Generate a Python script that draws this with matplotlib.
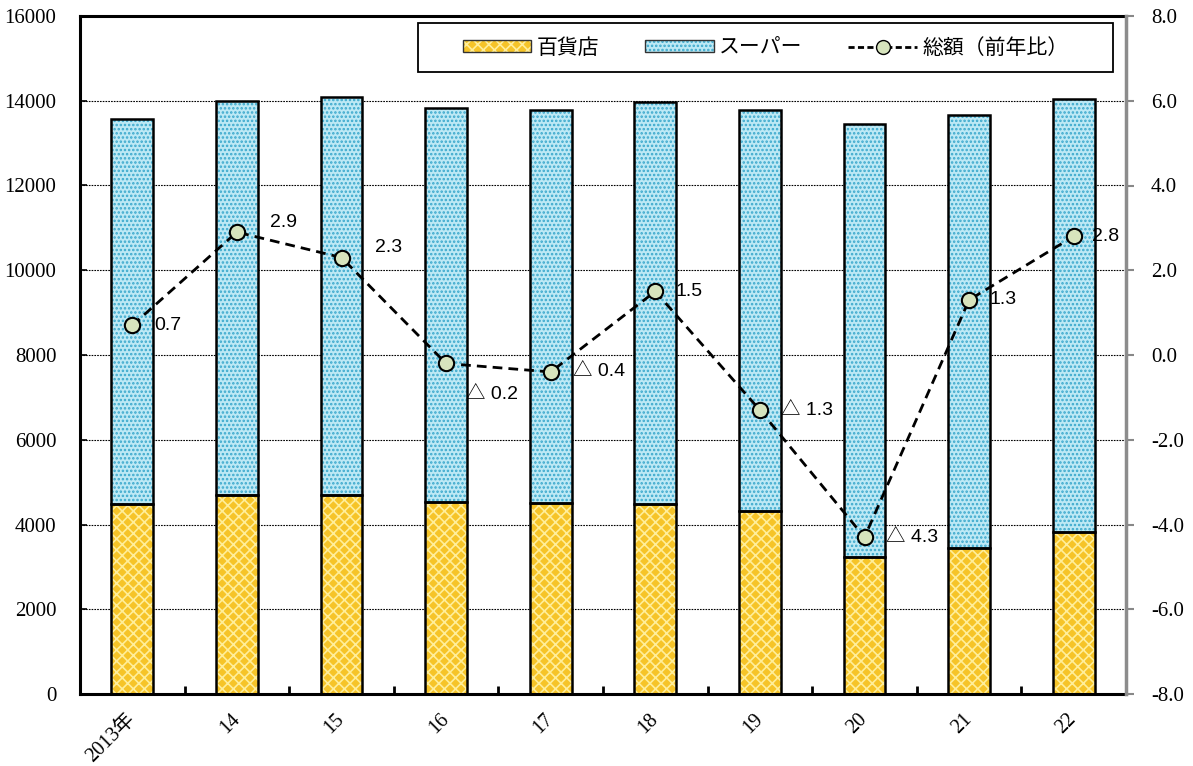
import matplotlib
matplotlib.use("Agg")
import matplotlib.pyplot as plt
import numpy as np
from matplotlib.patches import Patch, Rectangle
from matplotlib.lines import Line2D
from matplotlib.legend_handler import HandlerTuple

plt.rcParams['axes.unicode_minus'] = False
plt.rcParams['hatch.linewidth'] = 1.2

# ---- data ----
categories = ["2013年", "14", "15", "16", "17", "18", "19", "20", "21", "22"]
dept_store = [4490, 4700, 4700, 4530, 4510, 4480, 4320, 3230, 3450, 3830]
total = [13570, 14000, 14080, 13830, 13770, 13960, 13790, 13450, 13670, 14040]
supermarket = [t - d for t, d in zip(total, dept_store)]
yoy = [0.7, 2.9, 2.3, -0.2, -0.4, 1.5, -1.3, -4.3, 1.3, 2.8]
series_names = ["百貨店", "スーパー", "総額（前年比）"]
left_ticks = [0, 2000, 4000, 6000, 8000, 10000, 12000, 14000, 16000]
right_ticks = [-8, -6, -4, -2, 0, 2, 4, 6, 8]
# label offsets in pixels (dx, dy)
label_offsets = [(22, 0), (33, 10), (33, 10), (20, -31), (22, 0),
                 (20, 0), (21, 0), (21, 0), (20, 0), (18, 0)]

orange_base = "#F6C428"
orange_pat = "#FFEE9A"
blue_base = "#BDE9F5"
blue_pat = "#3AA8CC"

fig = plt.figure(figsize=(11.93, 7.66), dpi=100)
ax = fig.add_axes([80/1193, 72/766, 1046/1193, 678/766])
x = np.arange(len(categories))
w = 0.40

# hatched fills
ax.bar(x, dept_store, w, color=orange_base, edgecolor=orange_pat, hatch="xxx", lw=0, zorder=2)
ax.bar(x, supermarket, w, bottom=dept_store, color=blue_base, edgecolor=blue_pat, hatch="....", lw=0, zorder=2)
# outlines
ax.bar(x, dept_store, w, fill=False, edgecolor="black", lw=1.8, zorder=3)
ax.bar(x, supermarket, w, bottom=dept_store, fill=False, edgecolor="black", lw=1.8, zorder=3)

ax.set_xlim(-0.5, len(categories) - 0.5)
ax.set_ylim(0, 16000)
ax.set_yticks(left_ticks)
ax.set_yticklabels([str(v) for v in left_ticks], family=["Liberation Serif"], fontsize=15)
ax.yaxis.grid(True, linestyle=(0, (1.5, 1.0)), color="black", lw=0.8)
ax.set_axisbelow(True)
ax.tick_params(axis="y", direction="in", length=5, width=1.2, pad=17)

ax.set_xticks(x)
ax.set_xticklabels(categories, rotation=45, ha="right", va="center", rotation_mode="anchor",
                   family=["Liberation Serif", "Noto Sans CJK JP"], fontsize=14.5)
ax.tick_params(axis="x", which="major", length=0, pad=16)
ax.set_xticks(np.arange(len(categories) + 1) - 0.5, minor=True)
ax.tick_params(axis="x", which="minor", direction="in", length=6, width=2)

for s in ["left", "bottom", "top"]:
    ax.spines[s].set_linewidth(2.2)
    ax.spines[s].set_color("black")
ax.spines["right"].set_visible(False)

ax2 = ax.twinx()
ax2.plot(x, yoy, linestyle=(0, (3.5, 2.2)), color="black", lw=2, marker="o", markersize=11,
         markerfacecolor="#D7E4BD", markeredgecolor="black", markeredgewidth=1.5, zorder=5)
ax2.set_ylim(-8, 8)
ax2.set_yticks(right_ticks)
ax2.set_yticklabels([f"{v:.1f}" for v in right_ticks], family=["Liberation Serif"], fontsize=15)
ax2.tick_params(axis="y", direction="out", length=6, width=1.5, color="#888888", pad=12)
for s in ["left", "bottom", "top"]:
    ax2.spines[s].set_visible(False)
ax2.spines["right"].set_color("#8C8C8C")
ax2.spines["right"].set_linewidth(2.5)

for xi, v, (dx, dy) in zip(x, yoy, label_offsets):
    txt = f"{v:.1f}" if v >= 0 else f"△ {abs(v):.1f}"
    ax2.annotate(txt, (xi, v), xytext=(dx, dy), textcoords="offset pixels",
                 ha="left", va="center", fontsize=14,
                 family=["Liberation Sans", "Noto Sans CJK JP"], zorder=6)

# legend frame
fx0, fy0, fw, fh = 338/1046, 622/678, 695/1046, 49/678
ax2.add_patch(Rectangle((fx0, fy0), fw, fh, transform=ax2.transAxes, facecolor="white",
                        edgecolor="black", lw=1.3, zorder=9))

handles = [
    (Patch(facecolor=orange_base, edgecolor=orange_pat, hatch="xxx", lw=0),
     Patch(fill=False, edgecolor="#333333", lw=1.0)),
    (Patch(facecolor=blue_base, edgecolor=blue_pat, hatch="....", lw=0),
     Patch(fill=False, edgecolor="#333333", lw=1.0)),
    Line2D([0], [0], linestyle=(0, (2.2, 1.2)), color="black", lw=2, marker="o", markersize=10,
           markerfacecolor="#D7E4BD", markeredgecolor="black"),
]
leg = ax2.legend(handles, series_names, loc="center",
                 bbox_to_anchor=(fx0 + fw / 2, fy0 + fh / 2), ncol=3,
                 handler_map={tuple: HandlerTuple(ndivide=1, pad=0)},
                 prop={"family": ["Noto Sans CJK JP"], "size": 15},
                 frameon=False,
                 handlelength=3.3, handleheight=0.5, handletextpad=0.25,
                 borderaxespad=0, borderpad=0, columnspacing=2.2)
leg.set_zorder(10)

fig.savefig("out.png", dpi=100)
